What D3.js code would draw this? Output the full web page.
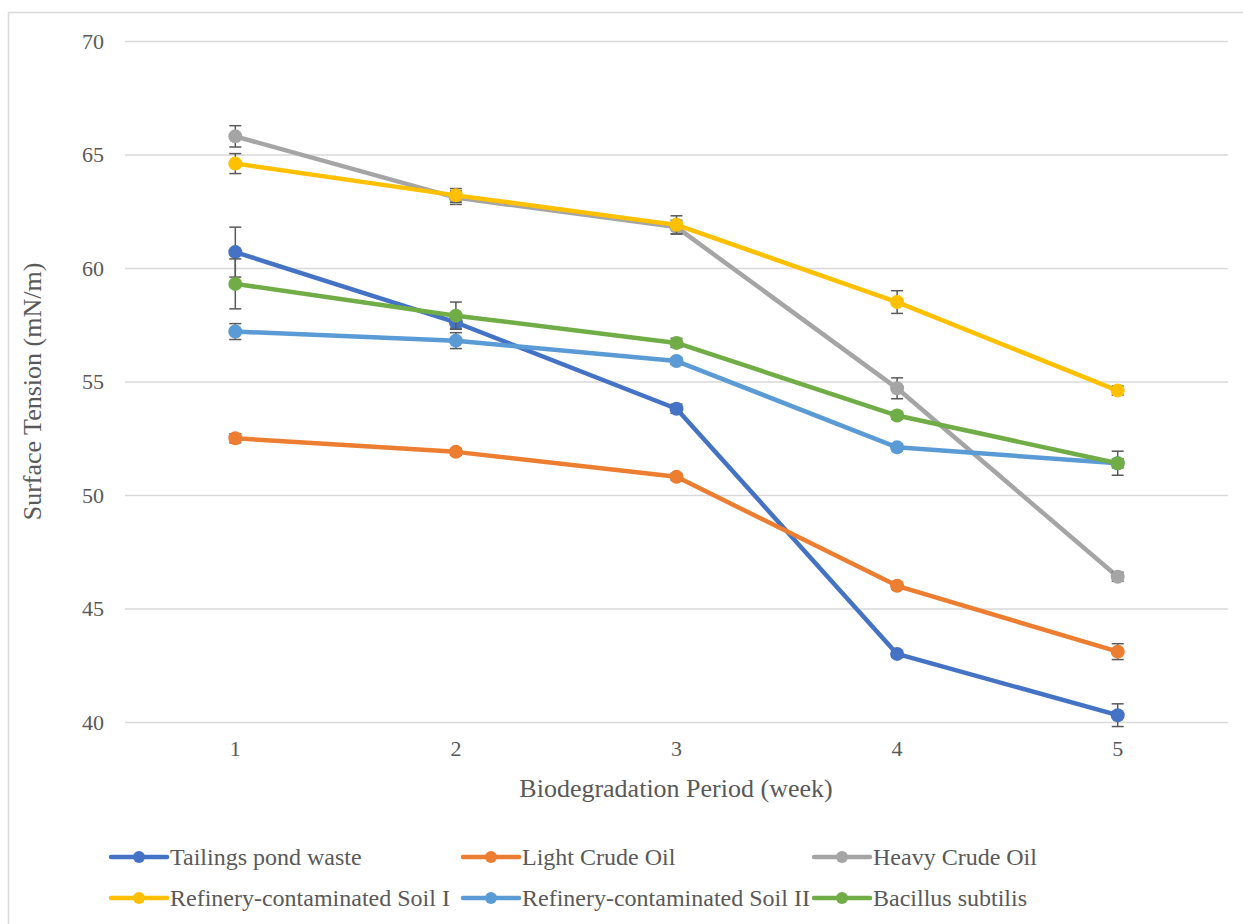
<!DOCTYPE html>
<html>
<head>
<meta charset="utf-8">
<script src="https://cdn.jsdelivr.net/npm/d3@7/dist/d3.min.js"></script>
<style>
  html, body { margin: 0; padding: 0; background: #fff; }
  svg { display: block; }
</style>
</head>
<body>
<svg id="chart" width="1243" height="924"></svg>
<script>
const weeks = ["1", "2", "3", "4", "5"];
const seriesNames = ["Tailings pond waste", "Light Crude Oil", "Heavy Crude Oil",
  "Refinery-contaminated Soil I", "Refinery-contaminated Soil II", "Bacillus subtilis"];
const seriesColors = ["#4472C4", "#ED7D31", "#A5A5A5", "#FFC000", "#5B9BD5", "#70AD47"];
const tailings = [60.7, 57.6, 53.8, 43.0, 40.3];
const lightCrude = [52.5, 51.9, 50.8, 46.0, 43.1];
const heavyCrude = [65.8, 63.1, 61.8, 54.7, 46.4];
const refinery1 = [64.6, 63.2, 61.9, 58.5, 54.6];
const refinery2 = [57.2, 56.8, 55.9, 52.1, 51.4];
const bacillus = [59.3, 57.9, 56.7, 53.5, 51.4];
const tailingsErr = [1.1, 0.25, 0.2, 0.15, 0.5];
const lightCrudeErr = [0.2, 0.15, 0.15, 0.15, 0.35];
const heavyCrudeErr = [0.47, 0.3, 0.3, 0.46, 0.2];
const refinery1Err = [0.44, 0.3, 0.4, 0.5, 0.2];
const refinery2Err = [0.35, 0.35, 0.15, 0.15, 0.2];
const bacillusErr = [1.1, 0.6, 0.2, 0.15, 0.53];
const yTicks = [40, 45, 50, 55, 60, 65, 70];

const seriesValues = [tailings, lightCrude, heavyCrude, refinery1, refinery2, bacillus];
const seriesErrs = [tailingsErr, lightCrudeErr, heavyCrudeErr, refinery1Err, refinery2Err, bacillusErr];

const svg = d3.select("#chart");
const textColor = "#595959";
const fontFam = "'Liberation Serif', 'Times New Roman', serif";

// outer chart border
svg.append("rect").attr("x", 8.5).attr("y", 12.5).attr("width", 1260).attr("height", 940)
  .attr("fill", "none").attr("stroke", "#d9d9d9").attr("stroke-width", 1.5);

const plot = {left: 125, right: 1228, top: 41, bottom: 722};
const x = d3.scaleBand().domain(weeks).range([plot.left, plot.right]).padding(0);
const cx = d => x(d) + x.bandwidth() / 2;
const y = d3.scaleLinear().domain([40, 70]).range([plot.bottom, plot.top]);

// gridlines
const yAxis = d3.axisLeft(y).tickValues(yTicks).tickSize(-(plot.right - plot.left)).tickPadding(21).tickFormat(d3.format("d"));
const gy = svg.append("g").attr("transform", `translate(${plot.left},0)`).call(yAxis);
gy.select(".domain").remove();
gy.selectAll(".tick line").attr("stroke", "#d9d9d9").attr("stroke-width", 1.5);
gy.selectAll(".tick text").attr("fill", textColor).style("font-family", fontFam).style("font-size", "22px");

const xAxis = d3.axisBottom(x).tickSize(0).tickPadding(18);
const gx = svg.append("g").attr("transform", `translate(0,${plot.bottom})`).call(xAxis);
gx.select(".domain").remove();
gx.selectAll(".tick text").attr("fill", textColor).style("font-family", fontFam).style("font-size", "22px");

// axis titles
svg.append("text").attr("x", 676).attr("y", 797)
  .attr("text-anchor", "middle").attr("fill", textColor)
  .style("font-family", fontFam).style("font-size", "26px")
  .text("Biodegradation Period (week)");
svg.append("text").attr("transform", `translate(41,${(plot.top + plot.bottom) / 2 + 10}) rotate(-90)`)
  .attr("text-anchor", "middle").attr("fill", textColor)
  .style("font-family", fontFam).style("font-size", "26px")
  .text("Surface Tension (mN/m)");

const line = d3.line().x((d, i) => cx(weeks[i])).y(d => y(d));

seriesValues.forEach((vals, si) => {
  const g = svg.append("g");
  g.append("path").datum(vals).attr("d", line).attr("fill", "none")
    .attr("stroke", seriesColors[si]).attr("stroke-width", 4.5).attr("stroke-linejoin", "round");
  const errs = seriesErrs[si];
  const eb = g.append("g").attr("stroke", "#595959").attr("stroke-width", 1.5);
  vals.forEach((v, i) => {
    const xx = cx(weeks[i]);
    eb.append("line").attr("x1", xx).attr("x2", xx).attr("y1", y(v + errs[i])).attr("y2", y(v - errs[i]));
    eb.append("line").attr("x1", xx - 6).attr("x2", xx + 6).attr("y1", y(v + errs[i])).attr("y2", y(v + errs[i]));
    eb.append("line").attr("x1", xx - 6).attr("x2", xx + 6).attr("y1", y(v - errs[i])).attr("y2", y(v - errs[i]));
  });
  g.selectAll("circle").data(vals).enter().append("circle")
    .attr("cx", (d, i) => cx(weeks[i])).attr("cy", d => y(d)).attr("r", 7)
    .attr("fill", seriesColors[si]);
});

// legend
const legCols = [111, 463, 814];
const legRows = [857, 898];
seriesNames.forEach((name, i) => {
  const lx = legCols[i % 3], ly = legRows[Math.floor(i / 3)];
  const g = svg.append("g");
  g.append("line").attr("x1", lx).attr("x2", lx + 56).attr("y1", ly).attr("y2", ly)
    .attr("stroke", seriesColors[i]).attr("stroke-width", 4.5).attr("stroke-linecap", "round");
  g.append("circle").attr("cx", lx + 28).attr("cy", ly).attr("r", 6).attr("fill", seriesColors[i]);
  g.append("text").attr("x", lx + 59).attr("y", ly).attr("dy", "0.35em")
    .attr("fill", textColor).style("font-family", fontFam).style("font-size", "24px").text(name);
});
</script>
</body>
</html>
